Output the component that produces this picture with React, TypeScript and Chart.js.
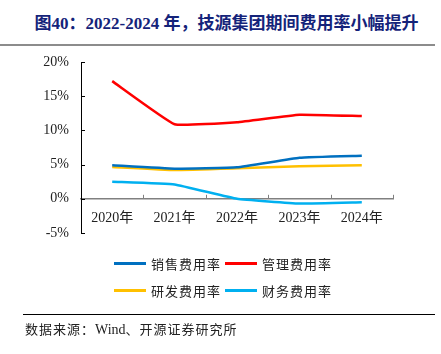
import React, { useEffect, useRef } from "react";
import { Chart, registerables } from "chart.js";

Chart.register(...registerables);

const categories = ["2020年", "2021年", "2022年", "2023年", "2024年"];
const salesRate = [4.9, 4.4, 4.6, 6.0, 6.3];
const adminRate = [17.2, 10.9, 11.2, 12.3, 12.1];
const rdRate = [4.65, 4.2, 4.45, 4.75, 4.9];
const finRate = [2.5, 2.1, 0.0, -0.7, -0.5];
const yTicks = [-5, 0, 5, 10, 15, 20];

const seriesNames = ["销售费用率", "管理费用率", "研发费用率", "财务费用率"];
const seriesColors = ["#0070C0", "#FF0000", "#FFC000", "#00B0F0"];
const seriesData = [salesRate, adminRate, rdRate, finRate];

const TITLE = "图40：2022-2024 年，技源集团期间费用率小幅提升";

const SERIF = "'Liberation Serif', 'Times New Roman', 'Noto Sans CJK SC', serif";
const CJK = "'Noto Sans CJK SC', 'Liberation Serif', serif";

const innerTicks = {
  id: "innerTicks",
  afterDraw(chart: any) {
    const ctx = chart.ctx;
    const x = chart.scales.x;
    const y = chart.scales.y;
    const y0 = y.getPixelForValue(0);
    ctx.save();
    ctx.strokeStyle = "#000";
    ctx.lineWidth = 1;
    yTicks.forEach((v) => {
      const py = Math.round(y.getPixelForValue(v)) + 0.5;
      ctx.beginPath();
      ctx.moveTo(x.left, py);
      ctx.lineTo(x.left + 4, py);
      ctx.stroke();
    });
    ctx.strokeStyle = "#808080";
    const n = categories.length;
    for (let i = 1; i <= n; i++) {
      let px;
      if (i < n) px = (x.getPixelForValue(i - 1) + x.getPixelForValue(i)) / 2;
      else px = x.right;
      px = Math.round(px) + 0.5;
      ctx.beginPath();
      ctx.moveTo(px, y0);
      ctx.lineTo(px, y0 - 4);
      ctx.stroke();
    }
    ctx.restore();
  },
};

function ChartCanvas() {
  const ref = useRef<HTMLCanvasElement | null>(null);
  useEffect(() => {
    if (!ref.current) return;
    const chart = new Chart(ref.current, {
      type: "line",
      data: {
        labels: categories,
        datasets: seriesData.map((d, i) => ({
          label: seriesNames[i],
          data: d,
          borderColor: seriesColors[i],
          backgroundColor: seriesColors[i],
          borderWidth: 2.5,
          pointRadius: 0,
          tension: 0.1,
          fill: false,
        })),
      },
      options: {
        animation: false,
        responsive: false,
        maintainAspectRatio: false,
        layout: { padding: { left: 0, top: 62, right: 48, bottom: 121 } },
        plugins: {
          legend: { display: false },
          tooltip: { enabled: false },
          title: { display: false },
        },
        scales: {
          x: {
            type: "category",
            offset: true,
            position: { y: 0 } as any,
            grid: { display: false, drawTicks: false },
            border: { display: true, color: "#808080", width: 1.5 },
            ticks: {
              padding: 11,
              color: "#222",
              font: { family: SERIF, size: 14 },
              maxRotation: 0,
            },
          },
          y: {
            min: -5,
            max: 20,
            afterFit: (s: any) => {
              s.width = 81;
            },
            afterBuildTicks: (s: any) => {
              s.ticks = yTicks.map((v) => ({ value: v }));
            },
            grid: { display: false, drawTicks: false },
            border: { display: true, color: "#000", width: 1 },
            ticks: {
              padding: 12,
              color: "#222",
              font: { family: SERIF, size: 14 },
              callback: (v: any) => v + "%",
            },
          },
        },
      },
      plugins: [innerTicks],
    });
    return () => chart.destroy();
  }, []);
  return (
    <canvas
      ref={ref}
      width={441}
      height={354}
      style={{ position: "absolute", left: 0, top: 0, width: 441, height: 354 }}
    />
  );
}

export default function App() {
  const legendPos = [
    { left: 114, top: 263 },
    { left: 225, top: 263 },
    { left: 114, top: 290 },
    { left: 225, top: 290 },
  ];
  return (
    <div
      style={{
        position: "fixed",
        left: 0,
        top: 0,
        width: 441,
        height: 354,
        background: "#fff",
        overflow: "hidden",
      }}
    >
      <div
        style={{
          position: "absolute",
          left: 0,
          width: 441,
          top: 12,
          textAlign: "center",
          fontFamily: SERIF,
          fontWeight: "bold",
          fontSize: 17,
          lineHeight: "24px",
          color: "#14237a",
          whiteSpace: "nowrap",
          paddingLeft: 12,
          boxSizing: "border-box",
        }}
      >
        {TITLE}
      </div>
      <div
        style={{
          position: "absolute",
          left: 0,
          width: 435,
          top: 44,
          height: 2,
          background: "#8c8c8c",
        }}
      />
      <ChartCanvas />
      {seriesNames.map((name, i) => (
        <div
          key={name}
          style={{
            position: "absolute",
            left: legendPos[i].left,
            top: legendPos[i].top - 10,
            height: 20,
            display: "flex",
            alignItems: "center",
            whiteSpace: "nowrap",
          }}
        >
          <div style={{ width: 32, height: 3, background: seriesColors[i], marginRight: 5 }} />
          <span style={{ fontFamily: CJK, fontSize: 13, letterSpacing: 1, color: "#222" }}>{name}</span>
        </div>
      ))}
      <div
        style={{
          position: "absolute",
          left: 23,
          width: 412,
          top: 314,
          height: 1,
          background: "#000",
        }}
      />
      <div
        style={{
          position: "absolute",
          left: 25,
          top: 319,
          lineHeight: "20px",
          fontFamily: CJK,
          fontSize: 13,
          letterSpacing: 1,
          color: "#222",
          whiteSpace: "nowrap",
        }}
      >
        数据来源：<span style={{ fontFamily: SERIF, fontSize: 14, letterSpacing: 0 }}>Wind</span>、开源证券研究所
      </div>
    </div>
  );
}
